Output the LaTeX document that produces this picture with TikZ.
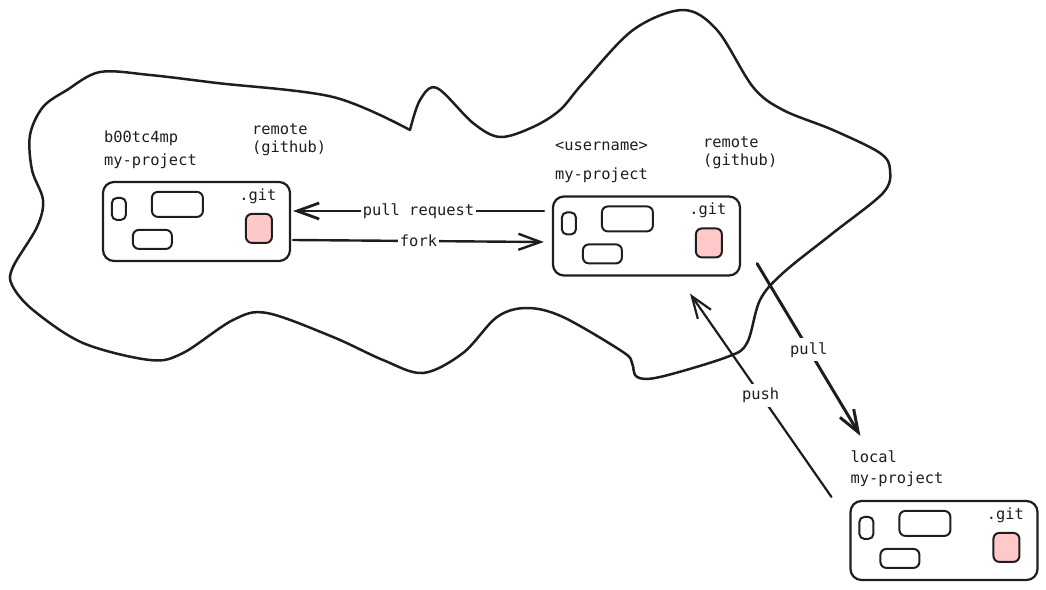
\documentclass[tikz,border=0pt]{standalone}
\usepackage{fontspec}
\setmonofont{DejaVu Sans Mono}
\usetikzlibrary{arrows.meta}
\definecolor{ink}{HTML}{1E1E1E}
\definecolor{gitpink}{HTML}{FFC9C9}

\begin{document}
\begin{tikzpicture}[x=1pt, y=-1pt, line cap=round, line join=round,
    repo/.style={draw=ink, line width=2.2pt, rounded corners=11pt,
      minimum width=187pt, minimum height=79pt, inner sep=0},
    part/.style={draw=ink, line width=2pt, rounded corners=5pt},
    txt/.style={text=ink, font=\fontsize{15.4}{18}\selectfont\ttfamily,
      inner sep=0, align=left},
    lbl/.style={txt, fill=white, inner sep=1.5pt},
    flow/.style={draw=ink, -{Straight Barb[length=22pt, width=16pt]}}]
    \useasboundingbox (0,0) rectangle (1046,589);

    % the cloud (github)
    \draw[ink, line width=2.5pt] plot[smooth, tension=0.55] coordinates {
      (410,130) (420,100) (437,88) (473,123) (500,137) (533,127) (560,110)
      (583,83) (633,30) (683,10) (717,30) (753,87) (783,110) (833,130)
      (880,153) (890,170) (883,193) (833,233) (783,273) (760,300) (747,343)
      (727,357) (660,377) (637,377) (632,363) (623,352) (563,317) (527,308)
      (497,317) (463,353) (423,373) (383,360) (333,337) (267,313) (233,320)
      (183,353) (150,360) (83,343) (33,310) (12,285) (13,267) (37,227)
      (43,200) (32,170) (30,135) (43,107) (67,90) (100,72) (150,75)
      (217,83) (333,97) (410,130)};

    % repositories
    \node[repo] (bootc) at (196.5,221.5) {};
    \node[repo] (user) at (646.5,236) {};
    \node[repo] (local) at (944,540.5) {};

    \foreach \r in {bootc,user,local} {
        \draw[part] ([shift={(10,17)}]\r.north west) rectangle ([shift={(24,39)}]\r.north west);
        \draw[part, rounded corners=6pt] ([shift={(50,11)}]\r.north west) rectangle ([shift={(101,36)}]\r.north west);
        \draw[part, rounded corners=6pt] ([shift={(31,49)}]\r.north west) rectangle ([shift={(70,68)}]\r.north west);
        \draw[part, fill=gitpink, rounded corners=6pt] ([shift={(144,33)}]\r.north west) rectangle ([shift={(170,62)}]\r.north west);
        \node[txt] (git\r) at ([shift={(156,15)}]\r.north west) {.git};
    }

    % names
    \node[txt, anchor=west] (bootcowner) at ([shift={(2,-43)}]bootc.north west) {b00tc4mp};
    \node[txt, anchor=west] (bootcname) at ([shift={(2,-20)}]bootc.north west) {my-project};
    \node[txt, anchor=west] (bootcwhere) at ([shift={(150,-41)}]bootc.north west) {remote\\(github)};

    \node[txt, anchor=west] (userowner) at ([shift={(3,-49)}]user.north west) {<username>};
    \node[txt, anchor=west] (username) at ([shift={(3,-20)}]user.north west) {my-project};
    \node[txt, anchor=west] (userwhere) at ([shift={(151,-43)}]user.north west) {remote\\(github)};

    \node[txt, anchor=west] (localwhere) at ([shift={(1,-43)}]local.north west) {local};
    \node[txt, anchor=west] (localname) at ([shift={(1,-21)}]local.north west) {my-project};

    % connectors
    \draw[flow, line width=2.8pt] ([shift={(-8,-25)}]user.west) -- node[lbl] {pull request} ([shift={(2,-10.5)}]bootc.east);
    \draw[flow, line width=2.4pt] ([shift={(2,18.5)}]bootc.east) -- node[lbl] {fork} ([shift={(-8,6)}]user.west);
    \draw[flow, line width=3pt] ([shift={(16,-13)}]user.south east) -- node[lbl, inner sep=4pt] {pull} ([shift={(11,-64)}]local.north west);
    \draw[flow, line width=2.2pt] ([shift={(-18,-3)}]local.north west) -- node[lbl, inner sep=4pt] {push} ([shift={(43.5,17)}]user.south);
\end{tikzpicture}
\end{document}
